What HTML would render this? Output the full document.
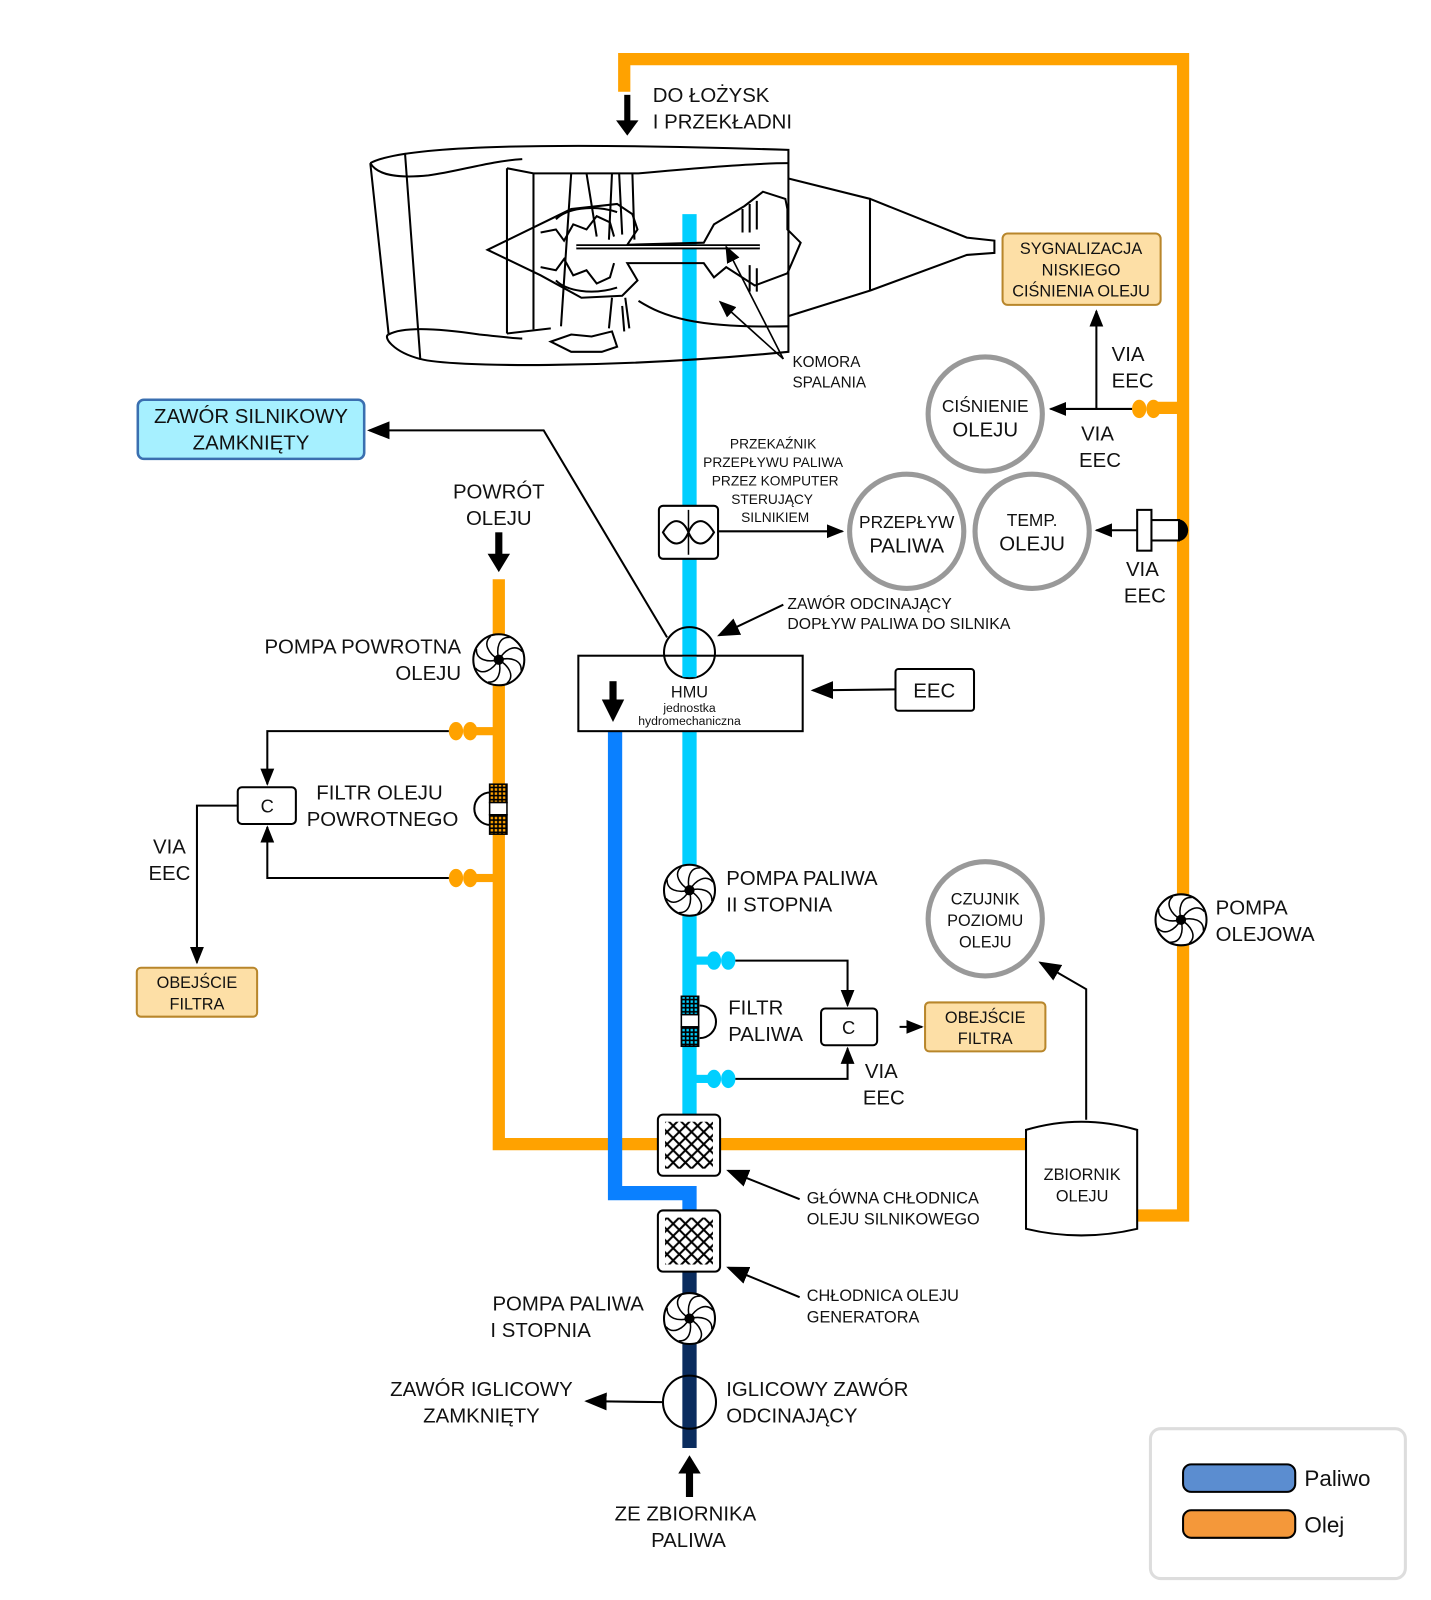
<!DOCTYPE html>
<html><head><meta charset="utf-8"><style>
html,body{margin:0;padding:0;background:#fff}
svg{display:block}
text{font-family:"Liberation Sans",Arial,sans-serif;fill:#111}
</style></head><body>
<svg width="1431" height="1600" viewBox="0 0 1403 1569" xmlns="http://www.w3.org/2000/svg">
<defs>
<marker id="ah" viewBox="0 0 10 10" refX="9" refY="5" markerWidth="17" markerHeight="17" markerUnits="userSpaceOnUse" orient="auto"><path d="M0,1 L10,5 L0,9 z" fill="#000"/></marker>
<marker id="ahb" viewBox="0 0 10 10" refX="9" refY="5" markerWidth="22" markerHeight="22" markerUnits="userSpaceOnUse" orient="auto"><path d="M0,1 L10,5 L0,9 z" fill="#000"/></marker>
<symbol id="fan" viewBox="-27 -27 54 54">
<circle r="25" fill="#fff" stroke="#000" stroke-width="2"/>
<g fill="none" stroke="#000" stroke-width="1.5">
<path d="M0,0 C6,-10 16,-16 23,-8"/><path d="M0,0 C6,-10 16,-16 23,-8" transform="rotate(45)"/>
<path d="M0,0 C6,-10 16,-16 23,-8" transform="rotate(90)"/><path d="M0,0 C6,-10 16,-16 23,-8" transform="rotate(135)"/>
<path d="M0,0 C6,-10 16,-16 23,-8" transform="rotate(180)"/><path d="M0,0 C6,-10 16,-16 23,-8" transform="rotate(225)"/>
<path d="M0,0 C6,-10 16,-16 23,-8" transform="rotate(270)"/><path d="M0,0 C6,-10 16,-16 23,-8" transform="rotate(315)"/>
</g><circle r="5" fill="#000"/>
</symbol>
<symbol id="tapO" viewBox="0 0 30 20"><ellipse cx="8" cy="10" rx="7" ry="9" fill="#FFA200"/><ellipse cx="22" cy="10" rx="7" ry="9" fill="#FFA200"/></symbol>
<symbol id="tapC" viewBox="0 0 30 20"><ellipse cx="8" cy="10" rx="7" ry="9" fill="#00CFFF"/><ellipse cx="22" cy="10" rx="7" ry="9" fill="#00CFFF"/></symbol>
<pattern id="hatch" width="12" height="12" patternUnits="userSpaceOnUse"><path d="M0,0 L12,12 M12,0 L0,12" stroke="#000" stroke-width="2"/></pattern>
<pattern id="gridO" width="4" height="4" patternUnits="userSpaceOnUse"><rect width="4" height="4" fill="#000"/><rect x="1" y="1" width="2.4" height="2.4" fill="#FFA200"/></pattern>
<pattern id="gridC" width="4" height="4" patternUnits="userSpaceOnUse"><rect width="4" height="4" fill="#000"/><rect x="1" y="1" width="2.4" height="2.4" fill="#00CFFF"/></pattern>
</defs>

<g fill="none" stroke="#FFA200" stroke-width="12">
<path d="M612,90 V58 H1160 V1192 H1112"/>
<path d="M489,568 V1122 H1010"/>
<path d="M1160,400 H1130"/>
</g>
<g fill="#FFA200">
<rect x="455" y="713" width="34" height="8"/><use href="#tapO" x="439" y="707" width="30" height="20"/>
<rect x="455" y="857" width="34" height="8"/><use href="#tapO" x="439" y="851" width="30" height="20"/>
<use href="#tapO" x="1109" y="391" width="30" height="20"/>
</g>
<g fill="none">
<path d="M676,210 V1100" stroke="#00CFFF" stroke-width="14"/>
<path d="M603,715 V1170 H676 V1195" stroke="#0A80FF" stroke-width="14"/>
<path d="M676,1240 V1420" stroke="#0A2C5E" stroke-width="14"/>
</g>
<g fill="#00CFFF">
<rect x="676" y="938" width="20" height="8"/><use href="#tapC" x="692" y="932" width="30" height="20"/>
<rect x="676" y="1054" width="20" height="8"/><use href="#tapC" x="692" y="1048" width="30" height="20"/>
</g>

<!-- engine -->
<g fill="none" stroke="#000" stroke-width="2">
<path d="M363,160 C390,145 500,138 773,147 L773,345 C600,362 440,360 412,352 C385,345 375,330 381,328"/>
<path d="M363,160 L381,328 M397,150 L412,352"/>
<path d="M363,160 C370,172 390,175 420,172 C450,168 480,158 512,156"/>
<path d="M381,328 C395,320 430,322 470,328 C490,330 505,332 512,332"/>
<path d="M497,165 L497,327 M497,165 L523,170 L626,170 C680,165 740,160 773,160"/>
<path d="M497,327 L540,322"/>
<path d="M523,170 L523,323 M560,170 L550,320 M575,170 L585,232 M607,170 L610,230 M620,170 L622,235"/>
<path d="M600,170 L597,235 M610,300 L612,325 M600,292 L597,322 M613,292 L617,322"/>
<path d="M478,245 L560,205 L605,200 L620,210 L625,225 L615,240 L690,238 L700,220 L730,202 L748,188 L770,195 L772,205 L772,225 L785,238 L772,268 L740,280 L712,262 L700,272 L690,258 L615,258 L625,275 L610,290 L570,292 L530,270 Z"/>
<path d="M545,215 C555,205 580,200 605,208 M545,275 C555,285 580,290 605,282"/>
<path d="M530,228 L545,225 L553,236 L562,220 L575,225 L585,212 L598,218 L602,232 M530,262 L545,265 L553,254 L562,270 L575,265 L585,278 L598,272 L602,258"/>
<path d="M742,197 L742,225 M735,200 L735,228 M728,205 L728,228 M742,263 L742,286 M735,260 L735,286"/>
<path d="M773,175 L853,195 L853,285 L773,310 M853,195 L948,233 L975,236 L975,248 L948,250 L853,285"/>
<path d="M626,295 C650,310 680,322 773,320"/>
<path d="M540,335 L560,328 L580,330 L600,325 L605,340 L590,345 L560,345 Z"/>
</g>
<g fill="none" stroke="#000" stroke-width="5"><path d="M565,242 L745,242"/></g>
<path d="M565,242 L745,242" stroke="#fff" stroke-width="1.5"/>
<g stroke="#000" stroke-width="1.6" fill="none">
<path d="M768,352 L712,242" marker-end="url(#ah)"/>
<path d="M768,352 L706,296" marker-end="url(#ah)"/>
</g>
<text x="777" y="360" font-size="15">KOMORA</text>
<text x="777" y="380" font-size="15">SPALANIA</text>

<path d="M615,93 V120" stroke="#000" stroke-width="6"/><path d="M604,118 L626,118 L615,133 Z"/>
<text x="640" y="100" font-size="20">DO ŁOŻYSK</text>
<text x="640" y="126" font-size="20">I PRZEKŁADNI</text>

<rect x="983" y="229" width="155" height="70" rx="5" fill="#FDDFA6" stroke="#B8862B" stroke-width="2"/>
<text x="1060" y="249" font-size="16" text-anchor="middle">SYGNALIZACJA</text>
<text x="1060" y="270" font-size="16" text-anchor="middle">NISKIEGO</text>
<text x="1060" y="291" font-size="16" text-anchor="middle">CIŚNIENIA OLEJU</text>
<g stroke="#000" stroke-width="2" fill="none">
<path d="M1110,401 H1030" marker-end="url(#ah)"/>
<path d="M1075,401 V305" marker-end="url(#ah)"/>
</g>
<text x="1090" y="354" font-size="20">VIA</text><text x="1090" y="380" font-size="20">EEC</text>
<text x="1060" y="432" font-size="20">VIA</text><text x="1058" y="458" font-size="20">EEC</text>

<g fill="#fff" stroke="#999" stroke-width="5">
<circle cx="966" cy="406" r="56"/><circle cx="889" cy="521" r="56"/><circle cx="1012" cy="521" r="56"/><circle cx="966" cy="901" r="56"/>
</g>
<text x="966" y="404" font-size="17" text-anchor="middle">CIŚNIENIE</text><text x="966" y="428" font-size="20" text-anchor="middle">OLEJU</text>
<text x="889" y="518" font-size="17" text-anchor="middle">PRZEPŁYW</text><text x="889" y="542" font-size="20" text-anchor="middle">PALIWA</text>
<text x="1012" y="516" font-size="17" text-anchor="middle">TEMP.</text><text x="1012" y="540" font-size="20" text-anchor="middle">OLEJU</text>
<text x="966" y="887" font-size="16" text-anchor="middle">CZUJNIK</text><text x="966" y="908" font-size="16" text-anchor="middle">POZIOMU</text><text x="966" y="929" font-size="16" text-anchor="middle">OLEJU</text>

<path d="M1154,509 a11,11 0 0 1 0,22 z" fill="#000"/>
<rect x="1128" y="510" width="28" height="20" fill="#fff" stroke="#000" stroke-width="2"/>
<rect x="1115" y="500" width="14" height="40" fill="#fff" stroke="#000" stroke-width="2"/>
<path d="M1115,520 H1075" stroke="#000" stroke-width="2" marker-end="url(#ah)"/>
<text x="1104" y="565" font-size="20">VIA</text><text x="1102" y="591" font-size="20">EEC</text>

<rect x="646" y="496" width="58" height="52" rx="4" fill="#fff" stroke="#000" stroke-width="2"/>
<path d="M650,522 C660,505 670,510 675,522 C680,534 690,539 700,522 C690,505 680,510 675,522 C670,534 660,539 650,522 Z" fill="none" stroke="#000" stroke-width="2"/>
<path d="M675,500 V544" stroke="#000" stroke-width="1.5"/>
<path d="M704,521 H826" stroke="#000" stroke-width="2" marker-end="url(#ah)"/>
<g font-size="13.5" text-anchor="middle"><text x="758" y="440">PRZEKAŹNIK</text><text x="758" y="458">PRZEPŁYWU PALIWA</text><text x="760" y="476">PRZEZ KOMPUTER</text><text x="757" y="494">STERUJĄCY</text><text x="760" y="512">SILNIKIEM</text></g>

<path d="M654,625 L533,422 H362" fill="none" stroke="#000" stroke-width="2" marker-end="url(#ahb)"/>
<rect x="567" y="643" width="220" height="74" fill="#fff" stroke="#000" stroke-width="2"/>
<circle cx="676" cy="640" r="25" fill="none" stroke="#000" stroke-width="2"/>
<rect x="669" y="644" width="14" height="20" fill="#00CFFF"/>
<path d="M601,668 V690" stroke="#000" stroke-width="7"/><path d="M590,686 L612,686 L601,708 Z"/>
<text x="676" y="684" font-size="16" text-anchor="middle">HMU</text>
<text x="676" y="698" font-size="12" text-anchor="middle">jednostka</text>
<text x="676" y="711" font-size="12" text-anchor="middle">hydromechaniczna</text>
<path d="M768,593 L705,623" stroke="#000" stroke-width="2" marker-end="url(#ahb)"/>
<text x="772" y="597" font-size="15.5">ZAWÓR ODCINAJĄCY</text><text x="772" y="617" font-size="15.5">DOPŁYW PALIWA DO SILNIKA</text>
<rect x="878" y="656" width="77" height="41" rx="3" fill="#fff" stroke="#000" stroke-width="2"/>
<text x="916" y="684" font-size="20" text-anchor="middle">EEC</text>
<path d="M878,676 L797,677" stroke="#000" stroke-width="2" marker-end="url(#ahb)"/>

<rect x="135" y="392" width="222" height="58" rx="6" fill="#A6F0FF" stroke="#3A6FB0" stroke-width="2.5"/>
<text x="246" y="415" font-size="20" text-anchor="middle">ZAWÓR SILNIKOWY</text>
<text x="246" y="441" font-size="20" text-anchor="middle">ZAMKNIĘTY</text>

<text x="489" y="489" font-size="20" text-anchor="middle">POWRÓT</text><text x="489" y="515" font-size="20" text-anchor="middle">OLEJU</text>
<path d="M489,522 V545" stroke="#000" stroke-width="7"/><path d="M478,543 L500,543 L489,561 Z"/>
<use href="#fan" x="462" y="620" width="54" height="54"/>
<text x="452" y="641" font-size="20" text-anchor="end">POMPA POWROTNA</text><text x="452" y="667" font-size="20" text-anchor="end">OLEJU</text>
<path d="M481,777 a16,16 0 0 0 0,32" fill="#fff" stroke="#000" stroke-width="2"/>
<rect x="480" y="769" width="17" height="18" fill="url(#gridO)" stroke="#000" stroke-width="1.5"/>
<rect x="480" y="787" width="17" height="12" fill="#fff" stroke="#000" stroke-width="1.5"/>
<rect x="480" y="799" width="17" height="19" fill="url(#gridO)" stroke="#000" stroke-width="1.5"/>
<text x="372" y="784" font-size="20" text-anchor="middle">FILTR OLEJU</text><text x="375" y="810" font-size="20" text-anchor="middle">POWROTNEGO</text>
<rect x="233" y="772" width="57" height="36" rx="4" fill="#fff" stroke="#000" stroke-width="2"/>
<text x="262" y="797" font-size="18" text-anchor="middle">C</text>
<g stroke="#000" stroke-width="2" fill="none">
<path d="M440,717 H262 V769" marker-end="url(#ah)"/>
<path d="M440,861 H262 V811" marker-end="url(#ah)"/>
<path d="M233,790 H193 V944" marker-end="url(#ah)"/>
</g>
<text x="166" y="837" font-size="20" text-anchor="middle">VIA</text><text x="166" y="863" font-size="20" text-anchor="middle">EEC</text>
<rect x="134" y="949" width="118" height="48" rx="4" fill="#FDDFA6" stroke="#B8862B" stroke-width="2"/>
<text x="193" y="969" font-size="16" text-anchor="middle">OBEJŚCIE</text><text x="193" y="990" font-size="16" text-anchor="middle">FILTRA</text>

<use href="#fan" x="649" y="846" width="54" height="54"/>
<text x="712" y="868" font-size="20">POMPA PALIWA</text><text x="712" y="894" font-size="20">II STOPNIA</text>
<path d="M686,986 a16,16 0 0 1 0,32" fill="#fff" stroke="#000" stroke-width="2"/>
<rect x="668" y="977" width="17" height="18" fill="url(#gridC)" stroke="#000" stroke-width="1.5"/>
<rect x="668" y="995" width="17" height="12" fill="#fff" stroke="#000" stroke-width="1.5"/>
<rect x="668" y="1007" width="17" height="19" fill="url(#gridC)" stroke="#000" stroke-width="1.5"/>
<text x="714" y="995" font-size="20">FILTR</text><text x="714" y="1021" font-size="20">PALIWA</text>
<rect x="805" y="989" width="55" height="36" rx="4" fill="#fff" stroke="#000" stroke-width="2"/>
<text x="832" y="1014" font-size="18" text-anchor="middle">C</text>
<g stroke="#000" stroke-width="2" fill="none">
<path d="M721,942 H831 V986" marker-end="url(#ah)"/>
<path d="M721,1058 H831 V1028" marker-end="url(#ah)"/>
<path d="M882,1007 H904" marker-end="url(#ah)"/>
</g>
<text x="848" y="1057" font-size="20">VIA</text><text x="846" y="1083" font-size="20">EEC</text>
<rect x="907" y="983" width="118" height="48" rx="4" fill="#FDDFA6" stroke="#B8862B" stroke-width="2"/>
<text x="966" y="1003" font-size="16" text-anchor="middle">OBEJŚCIE</text><text x="966" y="1024" font-size="16" text-anchor="middle">FILTRA</text>

<use href="#fan" x="1131" y="875" width="54" height="54"/>
<text x="1192" y="897" font-size="20">POMPA</text><text x="1192" y="923" font-size="20">OLEJOWA</text>
<path d="M1006,1108 Q1060,1092 1115,1108 V1205 Q1060,1218 1006,1205 Z" fill="#fff" stroke="#000" stroke-width="2"/>
<text x="1061" y="1157" font-size="16" text-anchor="middle">ZBIORNIK</text><text x="1061" y="1178" font-size="16" text-anchor="middle">OLEJU</text>
<path d="M1065,1098 V970 L1020,944" fill="none" stroke="#000" stroke-width="2" marker-end="url(#ahb)"/>

<rect x="645" y="1093" width="61" height="60" rx="5" fill="#fff" stroke="#000" stroke-width="2"/>
<rect x="652" y="1100" width="47" height="46" fill="url(#hatch)"/>
<rect x="645" y="1187" width="61" height="60" rx="5" fill="#fff" stroke="#000" stroke-width="2"/>
<rect x="652" y="1194" width="47" height="46" fill="url(#hatch)"/>
<g stroke="#000" stroke-width="2" fill="none">
<path d="M784,1176 L714,1148" marker-end="url(#ahb)"/>
<path d="M784,1272 L714,1243" marker-end="url(#ahb)"/>
</g>
<text x="791" y="1180" font-size="16">GŁÓWNA CHŁODNICA</text><text x="791" y="1201" font-size="16">OLEJU SILNIKOWEGO</text>
<text x="791" y="1276" font-size="16">CHŁODNICA OLEJU</text><text x="791" y="1297" font-size="16">GENERATORA</text>

<use href="#fan" x="649" y="1266" width="54" height="54"/>
<text x="557" y="1285" font-size="20" text-anchor="middle">POMPA PALIWA</text><text x="530" y="1311" font-size="20" text-anchor="middle">I STOPNIA</text>
<circle cx="676" cy="1375" r="26" fill="none" stroke="#000" stroke-width="2"/>
<path d="M650,1375 L575,1374" stroke="#000" stroke-width="2" marker-end="url(#ahb)"/>
<text x="472" y="1369" font-size="20" text-anchor="middle">ZAWÓR IGLICOWY</text><text x="472" y="1395" font-size="20" text-anchor="middle">ZAMKNIĘTY</text>
<text x="712" y="1369" font-size="20">IGLICOWY ZAWÓR</text><text x="712" y="1395" font-size="20">ODCINAJĄCY</text>
<path d="M676,1468 V1442" stroke="#000" stroke-width="7"/><path d="M665,1445 L687,1445 L676,1427 Z"/>
<text x="672" y="1491" font-size="20" text-anchor="middle">ZE ZBIORNIKA</text><text x="675" y="1517" font-size="20" text-anchor="middle">PALIWA</text>

<rect x="1128" y="1401" width="250" height="147" rx="10" fill="#fff" stroke="#ddd" stroke-width="3"/>
<rect x="1160" y="1436" width="110" height="27" rx="8" fill="#5B8DD0" stroke="#000" stroke-width="2"/>
<rect x="1160" y="1481" width="110" height="27" rx="8" fill="#F4983A" stroke="#000" stroke-width="2"/>
<text x="1279" y="1457" font-size="22">Paliwo</text>
<text x="1279" y="1503" font-size="22">Olej</text>
</svg>
</body></html>
